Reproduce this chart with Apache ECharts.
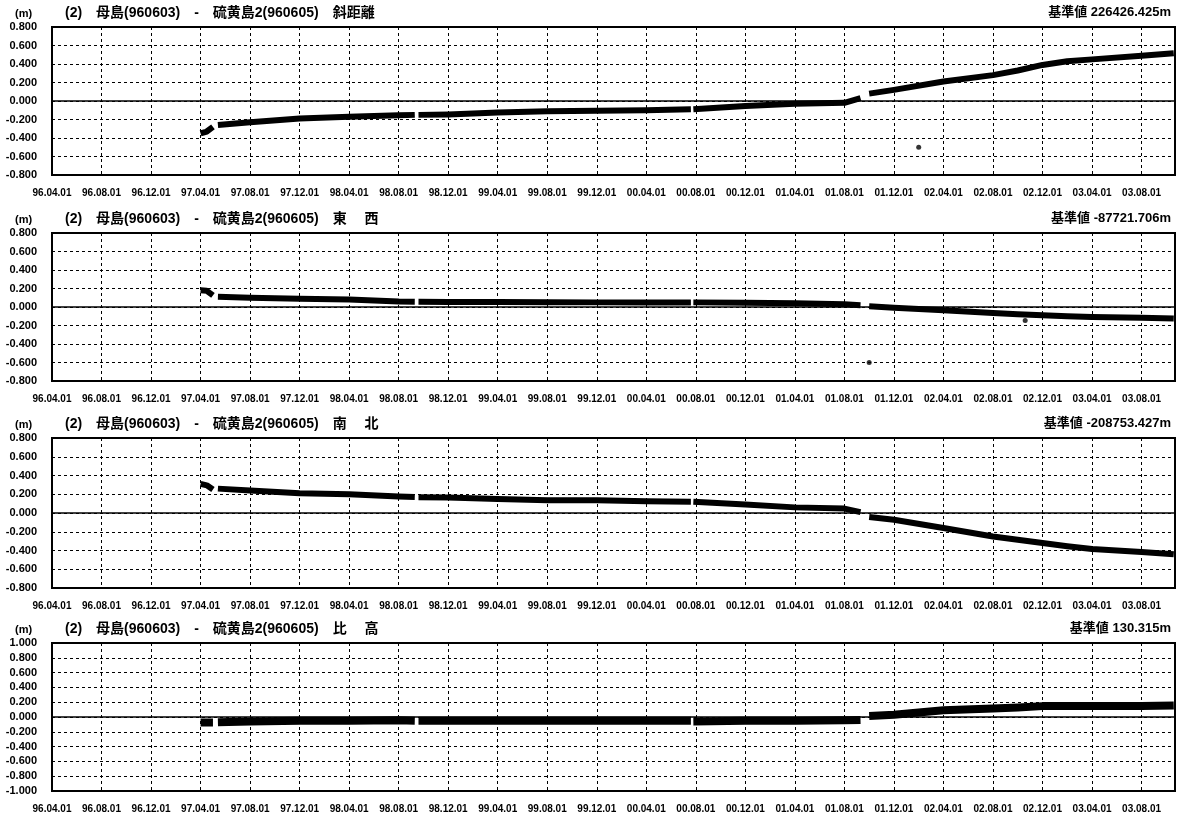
<!DOCTYPE html>
<html>
<head>
<meta charset="utf-8">
<script src="https://cdn.jsdelivr.net/npm/echarts@6/dist/echarts.min.js"></script>
<style>
  html, body { margin: 0; padding: 0; background: #fff; }
  #chart { width: 1184px; height: 814px; }
</style>
</head>
<body>
<div id="chart"></div>
<script>
// x = months counted from 96.04.01 ; null = break in the record
var months = [12.0, 12.5, 13.0, 13.2, 13.4, 16, 20, 24, 28, 29.3, 29.45, 29.6, 32, 36, 40, 44, 48,
  51.6, 51.7, 51.8, 56, 60, 64, 65.3, 65.6, 66, 68, 72, 76, 78, 80, 82, 84, 88, 90.6];

var slopeDist = [-0.35, -0.33, -0.28, null, -0.26, -0.23, -0.19, -0.17, -0.155, -0.15, null, -0.15, -0.145, -0.125, -0.11, -0.105, -0.10,
  -0.09, null, -0.09, -0.055, -0.03, -0.02, 0.03, null, 0.08, 0.12, 0.21, 0.28, 0.33, 0.39, 0.43, 0.45, 0.49, 0.515];
var eastWest = [0.18, 0.175, 0.125, null, 0.11, 0.10, 0.09, 0.08, 0.06, 0.058, null, 0.057, 0.055, 0.055, 0.052, 0.05, 0.05,
  0.05, null, 0.05, 0.045, 0.04, 0.03, 0.02, null, 0.008, -0.007, -0.036, -0.065, -0.078, -0.09, -0.10, -0.108, -0.115, -0.125];
var northSouth = [0.31, 0.295, 0.25, null, 0.26, 0.24, 0.21, 0.20, 0.175, 0.17, null, 0.168, 0.165, 0.15, 0.137, 0.137, 0.126,
  0.12, null, 0.12, 0.09, 0.06, 0.047, 0.01, null, -0.043, -0.072, -0.16, -0.25, -0.285, -0.32, -0.355, -0.385, -0.415, -0.44];
var heightDiff = [-0.075, -0.075, -0.075, null, -0.07, -0.06, -0.05, -0.05, -0.045, -0.05, null, -0.05, -0.05, -0.05, -0.05, -0.05, -0.05,
  -0.05, null, -0.06, -0.05, -0.05, -0.045, -0.04, null, 0.013, 0.03, 0.09, 0.116, 0.13, 0.147, 0.147, 0.147, 0.147, 0.156];

// stray single points
var strayMonths = [[70.0], [66.0, 78.6], [], []];
var strayValues = [[-0.5], [-0.6, -0.145], [], []];

var tickLabels = ['96.04.01', '96.08.01', '96.12.01', '97.04.01', '97.08.01', '97.12.01', '98.04.01', '98.08.01',
  '98.12.01', '99.04.01', '99.08.01', '99.12.01', '00.04.01', '00.08.01', '00.12.01', '01.04.01', '01.08.01',
  '01.12.01', '02.04.01', '02.08.01', '02.12.01', '03.04.01', '03.08.01'];

var components = ['斜距離', '東　 西', '南　 北', '比　 高'];
var baseValues = ['226426.425m', '-87721.706m', '-208753.427m', '130.315m'];
var yLimits = [0.8, 0.8, 0.8, 1.0];

var panelTops = [27, 233, 438, 643];
var panelHeights = [148, 148, 150, 149];
var lineWidths = [6, 6, 6, 8];

var numFont = "'Liberation Sans', Arial, sans-serif";
var titleFont = "'Liberation Sans', 'Noto Sans CJK JP', sans-serif";

var allSeries = [slopeDist, eastWest, northSouth, heightDiff];

var chart = echarts.init(document.getElementById('chart'));

var titles = [], grids = [], xAxes = [], yAxes = [], series = [];

allSeries.forEach(function (values, i) {
  var top = panelTops[i];

  titles.push({
    text: '(2)　母島(960603)　-　硫黄島2(960605)　' + components[i],
    left: 65, top: top - 21, padding: 0,
    textStyle: { fontSize: 14, fontWeight: 'bold', fontFamily: titleFont, color: '#000' }
  });
  titles.push({
    text: '基準値 ' + baseValues[i],
    right: 13, top: top - 21, padding: 0,
    textStyle: { fontSize: 13, fontWeight: 'bold', fontFamily: titleFont, color: '#000' }
  });
  titles.push({
    text: '(m)',
    left: 15, top: top - 19, padding: 0,
    textStyle: { fontSize: 11, fontWeight: 'bold', fontFamily: numFont, color: '#000' }
  });

  grids.push({
    left: 52, right: 9, top: top, height: panelHeights[i],
    show: true, borderColor: '#000', borderWidth: 2, backgroundColor: '#fff'
  });

  xAxes.push({
    type: 'value', gridIndex: i, min: 0, max: 90.7, interval: 4,
    axisLine: { show: false }, axisTick: { show: false },
    splitLine: { show: true, lineStyle: { color: '#000', width: 1, type: [3, 3] } },
    axisLabel: {
      margin: 13, color: '#000', fontSize: 10, fontWeight: 'bold', fontFamily: numFont,
      formatter: function (v) {
        var k = Math.round(v / 4);
        return Math.abs(v - k * 4) < 1e-6 && tickLabels[k] ? tickLabels[k] : '';
      }
    }
  });

  yAxes.push({
    type: 'value', gridIndex: i, min: -yLimits[i], max: yLimits[i], interval: 0.2,
    axisLine: { show: false }, axisTick: { show: false },
    splitLine: { show: true, lineStyle: { color: '#000', width: 1, type: [3, 3] } },
    axisLabel: {
      margin: 15, color: '#000', fontSize: 11, fontWeight: 'bold', fontFamily: numFont,
      formatter: function (v) { return (Math.abs(v) < 1e-9 ? 0 : v).toFixed(3); }
    }
  });

  series.push({
    type: 'line', xAxisIndex: i, yAxisIndex: i,
    data: months.map(function (m, k) { return [m, values[k] === null ? '-' : values[k]]; }),
    showSymbol: false, connectNulls: false, silent: true,
    lineStyle: { color: '#000', width: lineWidths[i], cap: 'butt', join: 'round' },
    markLine: {
      silent: true, symbol: 'none', label: { show: false },
      lineStyle: { color: '#000', type: 'solid', width: 1.5 },
      data: [{ yAxis: 0 }]
    },
    z: 3
  });

  series.push({
    type: 'scatter', xAxisIndex: i, yAxisIndex: i,
    data: strayMonths[i].map(function (m, k) { return [m, strayValues[i][k]]; }),
    symbolSize: 5, itemStyle: { color: '#000' }, silent: true
  });
});

chart.setOption({
  animation: false,
  backgroundColor: '#fff',
  title: titles,
  grid: grids,
  xAxis: xAxes,
  yAxis: yAxes,
  series: series
});
</script>
</body>
</html>
